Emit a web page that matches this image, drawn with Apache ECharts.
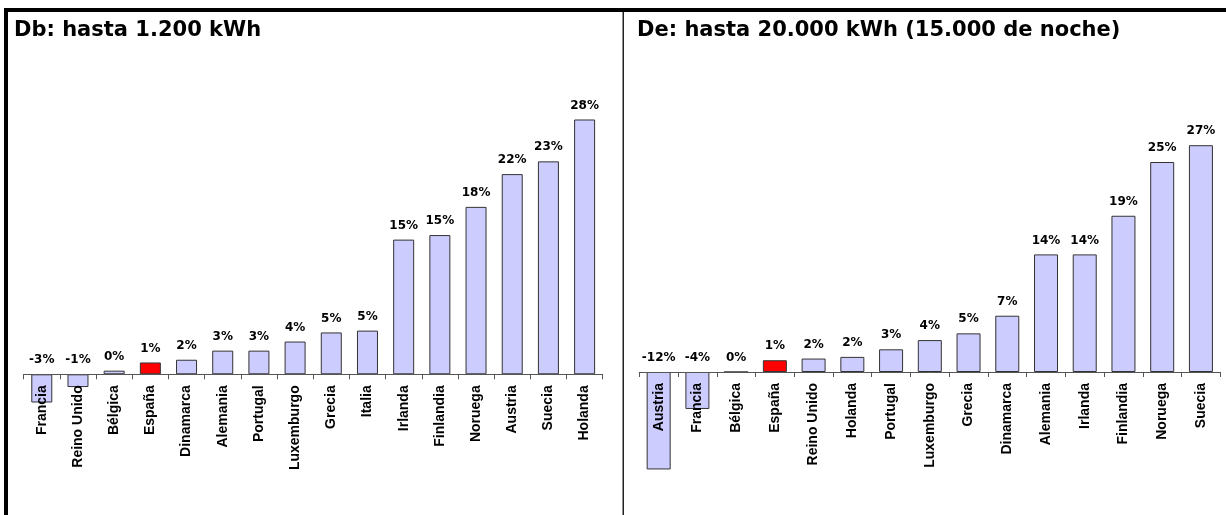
<!DOCTYPE html>
<html>
<head>
<meta charset="utf-8">
<script src="https://cdn.jsdelivr.net/npm/echarts@6/dist/echarts.min.js"></script>
<style>
  html, body { margin: 0; padding: 0; background: #fff; }
  #chart { width: 1226px; height: 515px; }
</style>
</head>
<body>
<div id="chart"></div>
<script>
// Db: hasta 1.200 kWh
var paisesDb = ['Francia', 'Reino Unido', 'Bélgica', 'España', 'Dinamarca', 'Alemania', 'Portugal', 'Luxemburgo',
    'Grecia', 'Italia', 'Irlanda', 'Finlandia', 'Noruega', 'Austria', 'Suecia', 'Holanda'];
var valoresDb = [-3.1, -1.4, 0.4, 1.3, 1.6, 2.6, 2.6, 3.6, 4.6, 4.8, 14.8, 15.3, 18.4, 22.0, 23.4, 28.0];

// De: hasta 20.000 kWh (15.000 de noche)
var paisesDe = ['Austria', 'Francia', 'Bélgica', 'España', 'Reino Unido', 'Holanda', 'Portugal', 'Luxemburgo',
    'Grecia', 'Dinamarca', 'Alemania', 'Irlanda', 'Finlandia', 'Noruega', 'Suecia'];
var valoresDe = [-11.6, -4.4, 0, 1.4, 1.6, 1.8, 2.7, 3.8, 4.6, 6.7, 14.0, 14.0, 18.6, 25.0, 27.0];

var titulos = ['Db: hasta 1.200 kWh', 'De: hasta 20.000 kWh (15.000 de noche)'];

function colorBarra(p) {
    return p.name === 'España' ? '#FF0000' : '#CCCCFF';
}

// the category axis sits on the grid bottom = the zero line, negative bars hang below it
function ejeX(idx, datos) {
    return {
        type: 'category',
        gridIndex: idx,
        position: 'bottom',
        data: datos,
        axisLine: { onZero: false, lineStyle: { color: '#555', width: 1 } },
        axisTick: { show: true, length: 5, inside: false, lineStyle: { color: '#555' } },
        axisLabel: {
            rotate: 90,
            interval: 0,
            margin: 11,
            color: '#000',
            fontFamily: 'Liberation Sans, Arial',
            fontWeight: 'bold',
            fontSize: 14
        },
        splitLine: { show: false },
        z: 3
    };
}

function ejeY(idx, min, max) {
    return {
        type: 'value',
        gridIndex: idx,
        min: min,
        max: max,
        show: false,
        splitLine: { show: false }
    };
}

function serie(idx, valores, ancho) {
    return {
        type: 'bar',
        xAxisIndex: idx,
        yAxisIndex: idx,
        data: valores,
        barWidth: ancho,
        clip: false,
        itemStyle: { color: colorBarra, borderColor: '#333', borderWidth: 1 },
        label: {
            show: true,
            position: 'top',
            distance: 8,
            color: '#000',
            fontFamily: 'DejaVu Sans',
            fontWeight: 'bold',
            fontSize: 12,
            formatter: function (p) { return Math.round(p.value) + '%'; }
        },
        animation: false
    };
}

var myChart = echarts.init(document.getElementById('chart'));
myChart.setOption({
    backgroundColor: '#fff',
    animation: false,
    grid: [
        { left: 23.7, right: 623.3, top: 101.3, bottom: 140.7, outerBoundsMode: 'none' },
        { left: 639.3, right: 5.7, top: 120, bottom: 143, outerBoundsMode: 'none' }
    ],
    xAxis: [ejeX(0, paisesDb), ejeX(1, paisesDe)],
    yAxis: [ejeY(0, 0, 30), ejeY(1, 0, 30)],
    series: [serie(0, valoresDb, 21), serie(1, valoresDe, 24)],
    graphic: [
        { type: 'rect', shape: { x: 4, y: 8, width: 1222, height: 4 }, style: { fill: '#000' } },
        { type: 'rect', shape: { x: 4, y: 8, width: 4, height: 507 }, style: { fill: '#000' } },
        { type: 'rect', shape: { x: 622.5, y: 12, width: 1.5, height: 503 }, style: { fill: '#222' } },
        {
            type: 'text', left: 14, top: 20,
            style: { text: titulos[0], fill: '#000', font: 'bold 21px "DejaVu Sans"' }
        },
        {
            type: 'text', left: 637, top: 20,
            style: { text: titulos[1], fill: '#000', font: 'bold 21px "DejaVu Sans"' }
        }
    ]
});
</script>
</body>
</html>
